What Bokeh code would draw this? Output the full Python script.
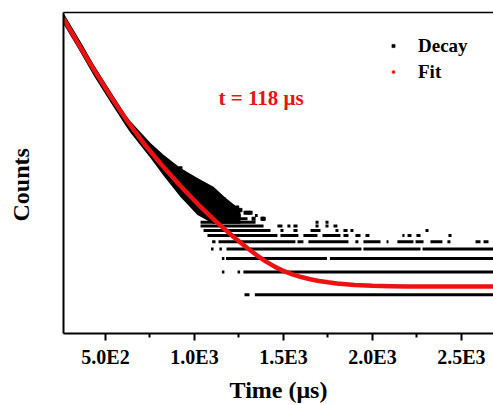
from bokeh.plotting import figure
from bokeh.models import (Range1d, LinearAxis, LogAxis, FixedTicker, Legend,
                          LegendItem, Label, Title, ColumnDataSource)
from bokeh.embed import file_html
from bokeh.resources import INLINE

# ---------------- data ----------------
x_ticks = [500, 1000, 1500, 2000, 2500]
x_minor_ticks = [750, 1250, 1750, 2250]
x_tick_labels = ["5.0E2", "1.0E3", "1.5E3", "2.0E3", "2.5E3"]

# fitted curve (time in µs, counts)
fit_time = [264, 360, 440, 530, 620, 720, 820, 920, 1020, 1120, 1220, 1300,
            1350, 1400, 1450, 1500, 1550, 1600, 1650, 1700, 1750, 1800,
            1900, 2000, 2100, 2200, 2700]
fit_counts = [4262, 1761, 866.2, 402.4, 194.8, 94.3, 49.5, 27.08, 15.47, 9.24,
              5.763, 4.061, 3.310, 2.753, 2.350, 2.064, 1.861, 1.714, 1.606,
              1.524, 1.462, 1.415, 1.351, 1.316, 1.298, 1.292, 1.292]

# dense part of the measured decay: upper / lower envelope of the point cloud
band_time = [264, 359.5, 434.3, 528.1, 612.4, 640.4, 752.8, 827.5, 921.3, 1016.8,
             1106.7, 1174.2, 1258.4]
band_upper = [5030, 2118, 1049, 472, 232.5, 191.2, 98.5, 68.6, 46.4, 34.3,
              26.2, 18.8, 13.1]
band_lower = [3610, 1520, 753, 339, 167, 135, 62.7, 36.4, 19.3, 11.2,
              8.6, 8.6, 8.6]

# isolated decay points sticking out of the cloud
outlier_time = [921, 931, 938, 1071, 1079, 1107, 1156, 1163, 1184, 1202, 1240,
                1258, 1287, 1303, 1315, 1332, 1382, 1388]
outlier_counts = [46, 40, 40, 25, 24, 22, 17, 18, 15, 14, 14, 13, 12, 12, 12,
                  10, 10, 10]

# sparse tail of the measured decay: runs of channels (start µs, end µs) per count level
decay_runs = {
    1: [(1281, 1309), (1339, 2700)],
    2: [(1154, 1168), (1242, 1256), (1275, 2700)],
    3: [(1154, 1168), (1177, 1744), (1761, 2700)],
    4: [(1093, 1107), (1140, 1154), (1180, 1938), (1949, 2270), (2281, 2700)],
    5: [(1099, 1118), (1135, 1567), (1579, 1612), (1640, 1865), (1904, 1921),
        (1949, 2045), (2079, 2090), (2140, 2230), (2242, 2287), (2326, 2393),
        (2421, 2438), (2579, 2607), (2624, 2652)],
    6: [(1073, 1466), (1483, 1584), (1612, 1691), (1719, 1820), (1837, 1865),
        (1904, 1933), (1961, 1983), (2168, 2180), (2197, 2219), (2247, 2270),
        (2427, 2444)],
    7: [(1051, 1427), (1483, 1500), (1556, 1579), (1652, 1708), (1792, 1809),
        (1837, 1860), (1876, 1893), (2298, 2315)],
    8: [(1034, 1388), (1466, 1494), (1522, 1539), (1556, 1579), (1680, 1697),
        (1736, 1753), (1781, 1803)],
    9: [(1034, 1343), (1680, 1697), (1736, 1753)],
    10: [(1073, 1298), (1388, 1399)],
    11: [(1100, 1260), (1340, 1355)],
    12: [(1110, 1230), (1300, 1315)],
    13: [(1120, 1190), (1250, 1265)],
    14: [(1130, 1180), (1210, 1225)],
    15: [(1150, 1165)],
}

lifetime_text = "t = 118 μs"

# ---------------- figure ----------------
FONT = "Liberation Serif"
RED = "#ee1111"

p = figure(width=493, height=405,
           x_range=Range1d(264, 2680), y_range=Range1d(0.311, 5105),
           y_axis_type="log", x_axis_location=None, y_axis_location=None,
           output_backend="svg", toolbar_location=None,
           min_border_left=63, min_border_right=0,
           min_border_top=12, min_border_bottom=71)
p.outline_line_color = None
p.grid.visible = False
p.background_fill_color = "white"
p.border_fill_color = "white"

# measured decay
p.varea(x=band_time, y1=band_lower, y2=band_upper, fill_color="black")
seg = dict(x0=[], x1=[], y=[])
for lvl, runs in decay_runs.items():
    for a, b in runs:
        seg["x0"].append(a)
        seg["x1"].append(b)
        seg["y"].append(lvl)
p.segment(x0="x0", y0="y", x1="x1", y1="y", source=ColumnDataSource(seg),
          line_color="black", line_width=3, line_cap="butt")
p.scatter(outlier_time, outlier_counts, marker="square", size=3.5,
          fill_color="black", line_color="black", line_width=0.5)

# fit
p.line(fit_time, fit_counts, line_color=RED, line_width=4.5, line_join="round")

# legend-only glyphs (no visible data)
nan = float("nan")
leg_decay = p.scatter(x=[nan], y=[nan], marker="square", size=3.5,
                      fill_color="black", line_color="black", line_width=0.5)
leg_fit = p.scatter(x=[nan], y=[nan], marker="circle", size=3.5,
                    fill_color=RED, line_color=RED, line_width=0.5)

legend = Legend(items=[LegendItem(label="Decay", renderers=[leg_decay]),
                       LegendItem(label="Fit", renderers=[leg_fit])],
                location=(326, 250), orientation="vertical",
                glyph_width=8, glyph_height=23, label_height=23, label_standoff=21,
                spacing=3, padding=0, margin=0,
                border_line_color=None, background_fill_alpha=0,
                label_text_font=FONT, label_text_font_style="bold",
                label_text_font_size="19px", label_text_color="black")
p.add_layout(legend)

p.add_layout(Label(x=1135, y=382, text=lifetime_text, text_font=FONT,
                   text_font_style="bold", text_font_size="21px",
                   text_color=RED, text_align="left", text_baseline="middle"))

# axes
xaxis = LinearAxis(ticker=FixedTicker(ticks=x_ticks, minor_ticks=x_minor_ticks),
                   major_label_overrides={t: l for t, l in zip(x_ticks, x_tick_labels)},
                   axis_label="Time (μs)")
xaxis.axis_line_width = 2
xaxis.major_tick_line_width = 2
xaxis.minor_tick_line_width = 2
xaxis.major_tick_in = 0
xaxis.major_tick_out = 7
xaxis.minor_tick_in = 0
xaxis.minor_tick_out = 4
xaxis.major_label_standoff = 5
xaxis.major_label_text_font = FONT
xaxis.major_label_text_font_style = "bold"
xaxis.major_label_text_font_size = "20px"
xaxis.major_label_text_color = "black"
xaxis.axis_label_text_font = FONT
xaxis.axis_label_text_font_style = "bold"
xaxis.axis_label_text_font_size = "24px"
xaxis.axis_label_text_color = "black"
xaxis.axis_label_standoff = 6
p.add_layout(xaxis, "below")

# left axis: line only; an invisible blank label reserves room so the title sits further left
yaxis = LogAxis(ticker=FixedTicker(ticks=[]), axis_label="\u00a0")
yaxis.axis_line_width = 2
yaxis.major_tick_in = 0
yaxis.major_tick_out = 0
yaxis.minor_tick_in = 0
yaxis.minor_tick_out = 0
yaxis.axis_label_standoff = 26
yaxis.axis_label_text_font_size = "1px"
yaxis.axis_label_text_alpha = 0
p.add_layout(yaxis, "left")

# y-axis title (sits a little below the frame centre in the reference)
ytitle = Title(text="Counts", align="left", offset=112, standoff=0,
               text_font=FONT, text_font_style="bold", text_font_size="24px",
               text_color="black")
p.add_layout(ytitle, "left")

top = LinearAxis(ticker=FixedTicker(ticks=[]))
top.axis_line_width = 1.5
top.major_tick_in = 0
top.major_tick_out = 0
top.minor_tick_in = 0
top.minor_tick_out = 0
p.add_layout(top, "above")

open("out.html", "w").write(file_html(p, INLINE))
